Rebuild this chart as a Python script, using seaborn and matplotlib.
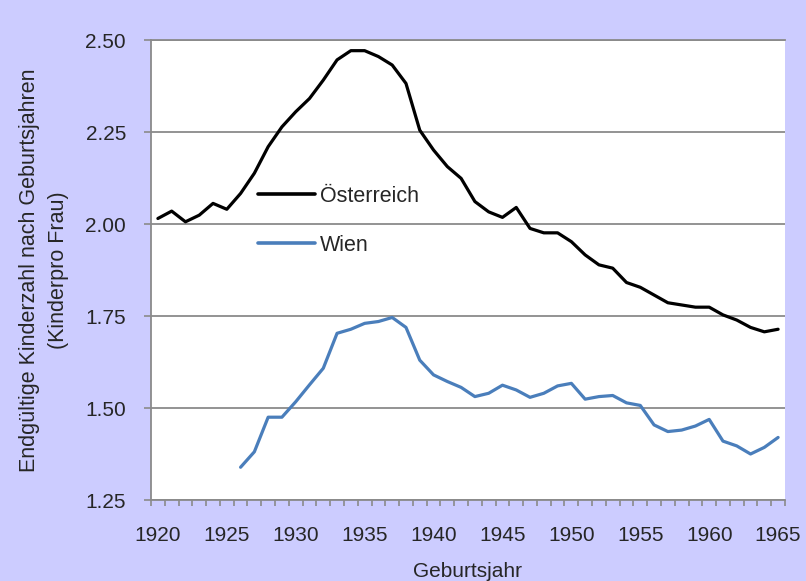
# -*- coding: utf-8 -*-
"""
Endgültige Kinderzahl nach Geburtsjahren: Österreich vs. Wien
"""

import matplotlib.pyplot as plt
import pandas as pd
import seaborn as sns

# Data (children per woman by birth cohort)
years_at = list(range(1920, 1966))
oesterreich = [2.015, 2.035, 2.006, 2.024, 2.056, 2.040, 2.083, 2.138, 2.210, 2.264,
               2.305, 2.341, 2.391, 2.446, 2.471, 2.471, 2.455, 2.432, 2.382, 2.255,
               2.201, 2.156, 2.124, 2.061, 2.033, 2.018, 2.045, 1.988, 1.976, 1.976,
               1.952, 1.916, 1.889, 1.880, 1.841, 1.828, 1.807, 1.786, 1.780, 1.774,
               1.774, 1.753, 1.739, 1.719, 1.707, 1.714]

years_wien = list(range(1926, 1966))
wien = [1.339, 1.381, 1.475, 1.475, 1.517, 1.563, 1.608, 1.703, 1.714, 1.730,
        1.735, 1.746, 1.719, 1.630, 1.590, 1.572, 1.556, 1.531, 1.540, 1.562,
        1.549, 1.529, 1.540, 1.560, 1.567, 1.524, 1.531, 1.534, 1.514, 1.507,
        1.454, 1.436, 1.440, 1.451, 1.469, 1.410, 1.397, 1.375, 1.393, 1.420]

y_ticks = [1.25, 1.50, 1.75, 2.00, 2.25, 2.50]
x_ticks = list(range(1920, 1966, 5))

# Long-form frame for seaborn
df = pd.concat([
    pd.DataFrame({'Jahr': years_at, 'Kinder': oesterreich, 'Region': 'Österreich'}),
    pd.DataFrame({'Jahr': years_wien, 'Kinder': wien, 'Region': 'Wien'}),
], ignore_index=True)

sns.set_style("white")
plt.rcParams['font.family'] = ['Liberation Sans', 'DejaVu Sans']

grid_col = '#8a8a8a'
fig = plt.figure(figsize=(8.06, 5.81), dpi=100, facecolor='#ccccff')
ax = fig.add_axes([151 / 806, 1 - 500 / 581, 634 / 806, 460 / 581])
ax.set_facecolor('white')

sns.lineplot(data=df, x='Jahr', y='Kinder', hue='Region',
             palette={'Österreich': 'black', 'Wien': '#4a7ebb'},
             linewidth=2.3, ax=ax)

# Axes range and ticks (Excel-like category axis)
ax.set_xlim(1919.5, 1965.5)
ax.set_ylim(1.25, 2.50)
ax.set_xticks(x_ticks)
ax.set_xticks([y + 0.5 for y in range(1919, 1966)], minor=True)
ax.set_yticks(y_ticks)
ax.set_yticklabels([f"{v:.2f}" for v in y_ticks])
ax.tick_params(axis='x', which='major', length=0, pad=19, labelsize=15)
ax.tick_params(axis='x', which='minor', length=4, width=1.2, color=grid_col, direction='out')
ax.tick_params(axis='y', length=5, width=1.2, color=grid_col, pad=13, labelsize=15)
ax.tick_params(left=True, bottom=True, which='both')

ax.grid(axis='y', color=grid_col, linewidth=1.3)
ax.grid(axis='x', visible=False)
for side in ['left', 'bottom', 'top']:
    ax.spines[side].set_color(grid_col)
    ax.spines[side].set_linewidth(1.3)
ax.spines['right'].set_visible(False)

# Labels
ax.set_xlabel('Geburtsjahr', fontsize=15)
ax.xaxis.set_label_coords(0.5, -0.135)
ax.set_ylabel('Endgültige Kinderzahl nach Geburtsjahren\n(Kinderpro Frau)',
              fontsize=15.5, linespacing=1.45)
ax.yaxis.set_label_coords(-0.13, 0.5)

# Legend inside the plot
sns.move_legend(ax, 'upper left', bbox_to_anchor=(0.169, 0.683), frameon=False,
                title=None, fontsize=15.5, handlelength=2.65, handletextpad=0.2,
                labelspacing=1.3, borderpad=0, borderaxespad=0)
for line in ax.get_legend().get_lines():
    line.set_linewidth(2.6)

plt.savefig('out.png', dpi=100, facecolor=fig.get_facecolor())
